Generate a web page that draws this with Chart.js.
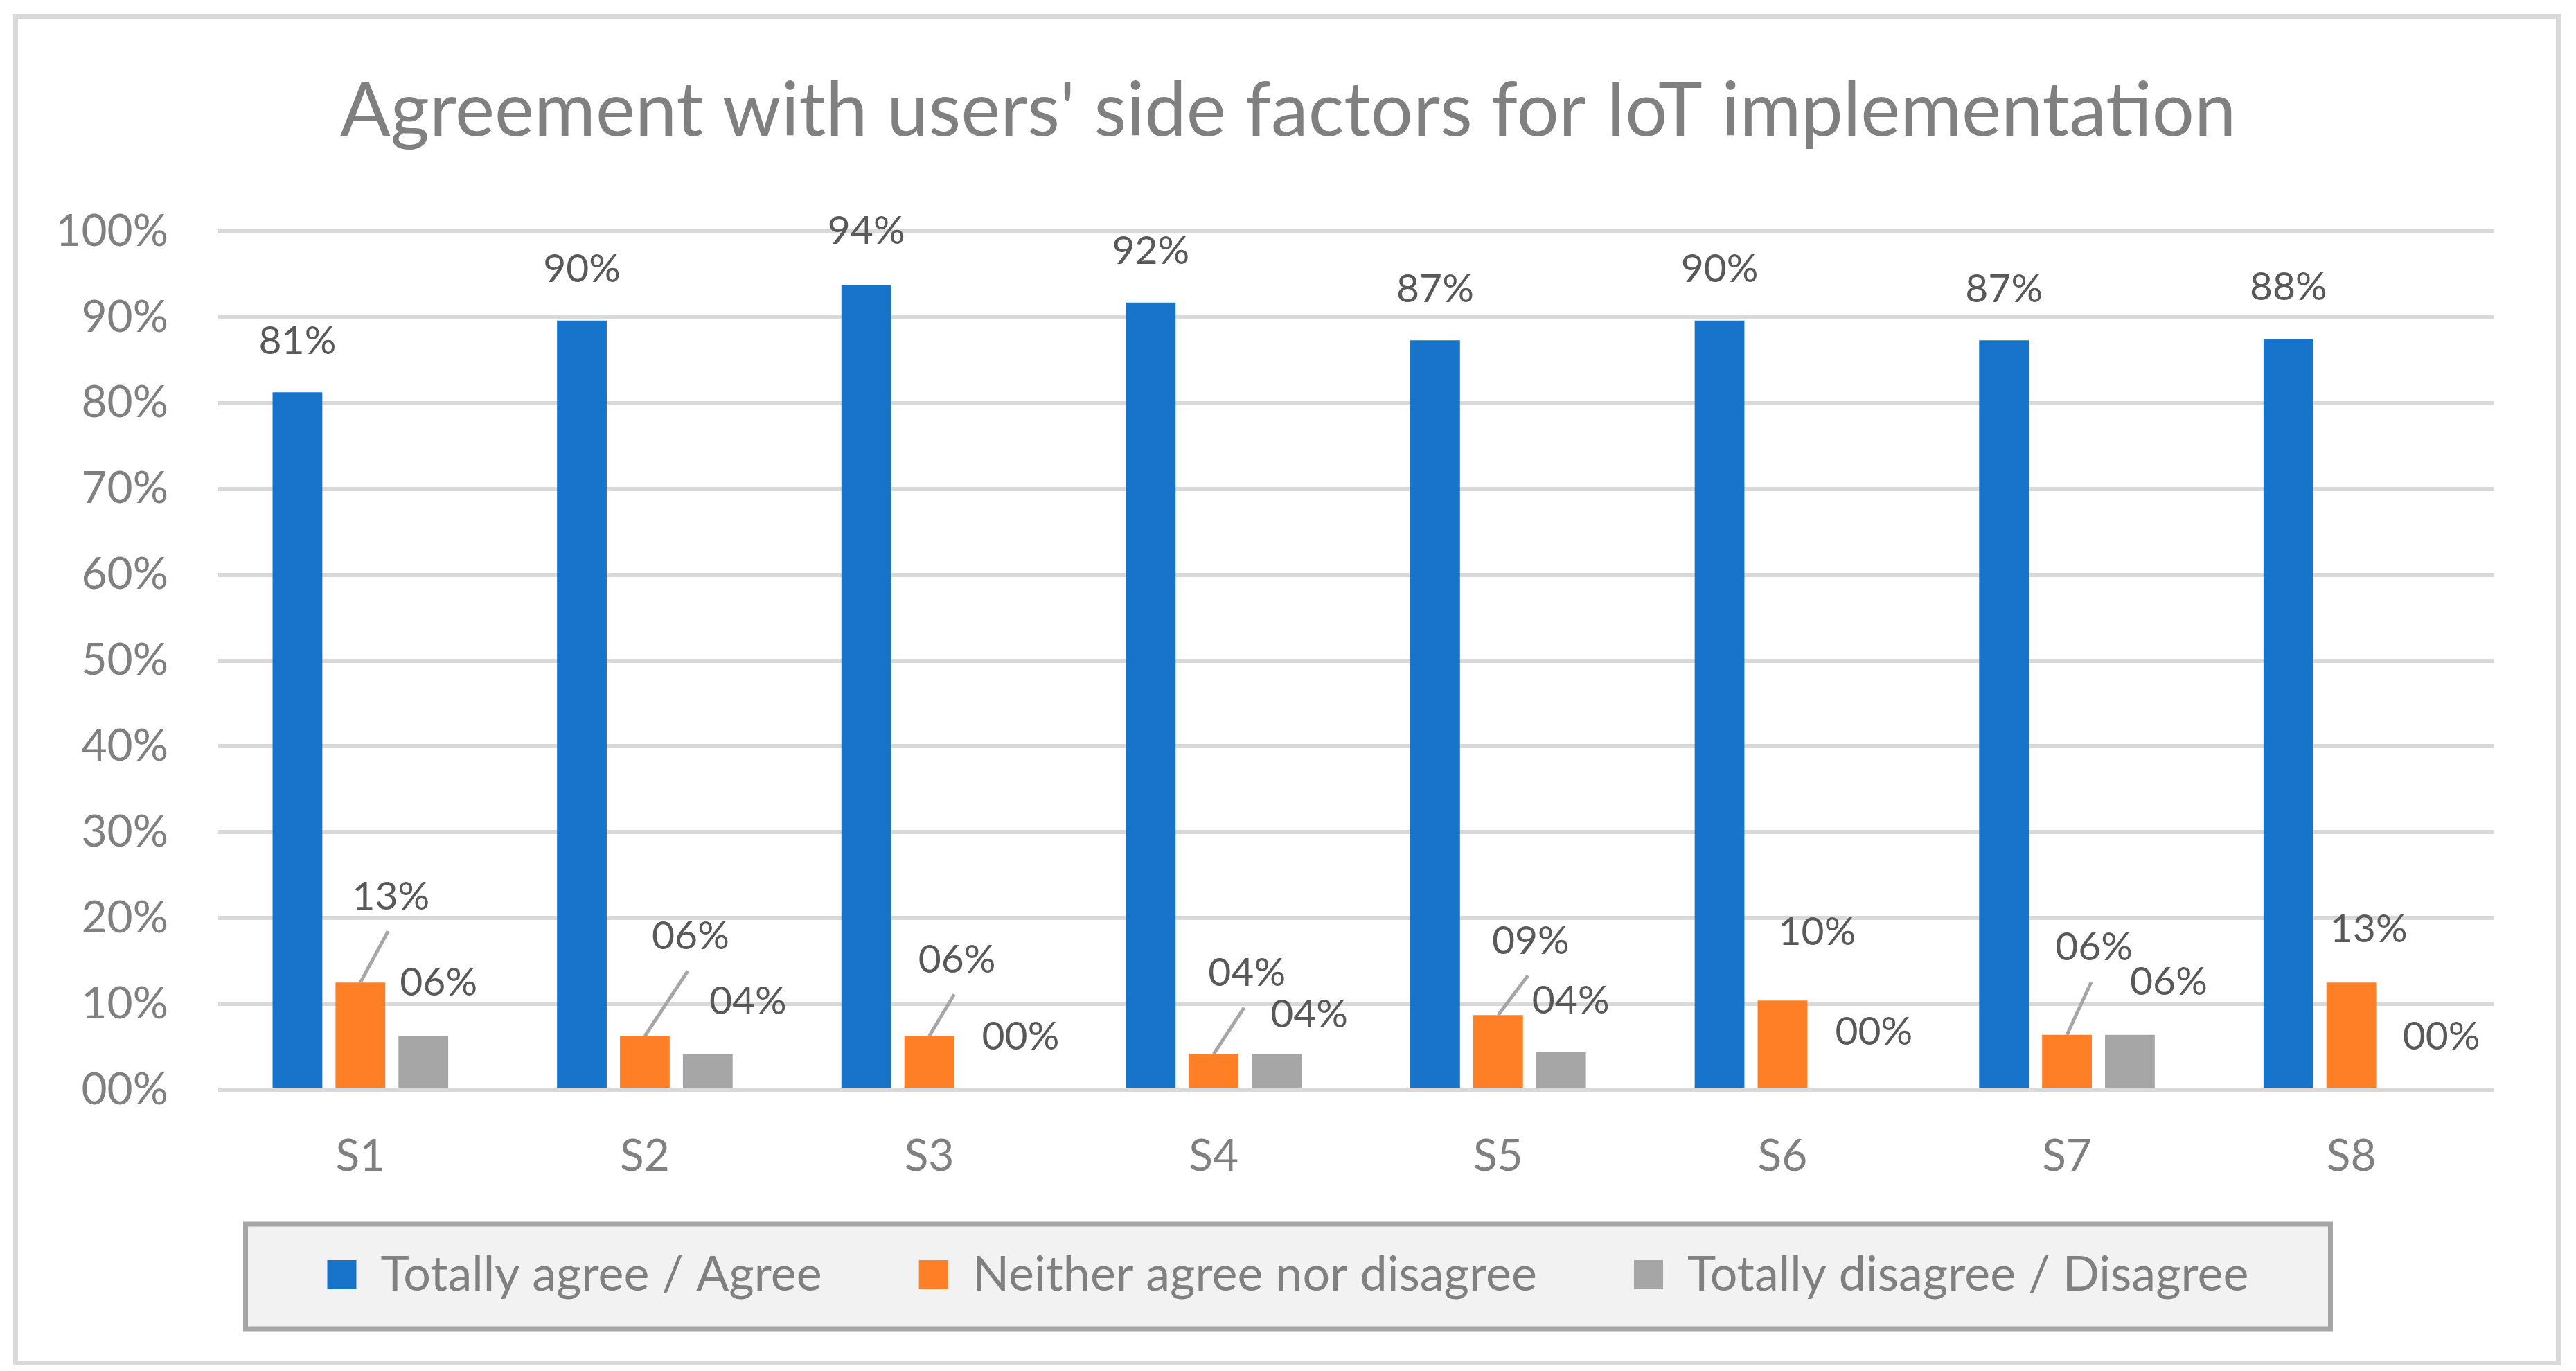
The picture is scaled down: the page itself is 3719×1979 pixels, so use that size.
<!DOCTYPE html>
<html>
<head>
<meta charset="utf-8">
<script src="https://cdn.jsdelivr.net/npm/chart.js@4.4.1/dist/chart.umd.min.js"></script>
<style>
  html, body { margin: 0; padding: 0; background: #ffffff; }
  #wrap { width: 3719px; height: 1979px; }
</style>
</head>
<body>
<div id="wrap"><canvas id="chart"></canvas></div>
<script>
// --- data ---
const statements = ['S1', 'S2', 'S3', 'S4', 'S5', 'S6', 'S7', 'S8'];
const agree = [81.25, 89.6, 93.75, 91.7, 87.3, 89.6, 87.3, 87.5];
const neutral = [12.5, 6.25, 6.25, 4.17, 8.7, 10.4, 6.4, 12.5];
const disagree = [6.25, 4.17, 0, 4.17, 4.35, 0, 6.4, 0];
const seriesNames = ['Totally agree / Agree', 'Neither agree nor disagree', 'Totally disagree / Disagree'];
const yTicks = [0, 10, 20, 30, 40, 50, 60, 70, 80, 90, 100];

// label placement tweaks (px), the way the labels were dragged in the original
const labelNudge = [
  [[0, 0], [0, 0], [0, -4], [0, 0], [0, 0], [0, 0], [0, 0], [0, 0]],
  [[44, -50], [66, -70], [40, -36], [48, -43], [47, -33], [50, -25], [39, -52], [25, -3]],
  [[22, -3], [58, -2], [41, -2], [47, 17], [14, 0], [41, -9], [56, -2], [39, -2]]
];
const leaderLine = [
  [0, 0, 0, 0, 0, 0, 0, 0],
  [1, 1, 1, 1, 1, 0, 1, 0],
  [0, 0, 0, 0, 0, 0, 0, 0]
];

const FONT = 'Lato';
const pct = v => String(Math.round(v)).padStart(2, '0') + '%';

const frame = {
  id: 'frame',
  // pull the legend up into the space under the axis labels
  afterLayout(chart) {
    const lg = chart.legend;
    lg.top -= 48;
    lg.bottom -= 48;
  },
  beforeDraw(chart) {
    const { ctx, width, height } = chart;
    ctx.save();
    ctx.fillStyle = '#ffffff';
    ctx.fillRect(0, 0, width, height);
    ctx.strokeStyle = '#d9d9d9';
    ctx.lineWidth = 7;
    ctx.strokeRect(22.5, 23.5, 3671, 1944);

    // legend box
    const lg = chart.legend;
    if (lg && lg.legendHitBoxes && lg.legendHitBoxes.length) {
      const hb = lg.legendHitBoxes[0];
      const cy = hb.top + hb.height / 2;
      const cx = (lg.left + lg.right) / 2;
      ctx.fillStyle = '#f2f2f2';
      ctx.strokeStyle = '#a6a6a6';
      ctx.lineWidth = 7;
      ctx.fillRect(cx - 1505, cy - 73, 3010, 151);
      ctx.strokeRect(cx - 1505, cy - 73, 3010, 151);
    }
    ctx.restore();
  }
};

const valueLabels = {
  id: 'valueLabels',
  afterDatasetsDraw(chart) {
    const { ctx } = chart;
    ctx.save();
    ctx.font = `57px ${FONT}`;
    ctx.textAlign = 'center';
    ctx.textBaseline = 'middle';
    chart.data.datasets.forEach((ds, i) => {
      const meta = chart.getDatasetMeta(i);
      meta.data.forEach((bar, j) => {
        const lx = bar.x + labelNudge[i][j][0];
        const ly = bar.y - 74 + labelNudge[i][j][1];
        if (leaderLine[i][j]) {
          ctx.strokeStyle = '#a6a6a6';
          ctx.lineWidth = 5;
          ctx.beginPath();
          ctx.moveTo(bar.x, bar.y);
          ctx.lineTo(lx - 4, ly + 50);
          ctx.stroke();
        }
        ctx.fillStyle = '#595959';
        ctx.fillText(pct(ds.data[j]), lx, ly);
      });
    });
    ctx.restore();
  }
};

new Chart(document.getElementById('chart'), {
  type: 'bar',
  data: {
    labels: statements,
    datasets: [
      { label: seriesNames[0], data: agree, backgroundColor: '#1873ca' },
      { label: seriesNames[1], data: neutral, backgroundColor: '#ff7f27' },
      { label: seriesNames[2], data: disagree, backgroundColor: '#a6a6a6' }
    ]
  },
  options: {
    responsive: true,
    maintainAspectRatio: false,
    devicePixelRatio: 1,
    animation: false,
    categoryPercentage: 0.664,
    barPercentage: 0.79,
    layout: { padding: { left: 30, right: 30, top: 0, bottom: 46 } },
    scales: {
      x: {
        grid: { display: false, drawTicks: false },
        border: { display: false },
        ticks: { color: '#808080', font: { family: FONT, size: 64 }, padding: 58 },
        afterFit: s => { s.height = 140; }
      },
      y: {
        min: 0,
        max: 100,
        afterBuildTicks: s => { s.ticks = yTicks.map(v => ({ value: v })); },
        grid: { color: '#d9d9d9', lineWidth: 6, drawTicks: false },
        border: { display: false },
        ticks: { color: '#808080', font: { family: FONT, size: 64 }, padding: 72, callback: v => pct(v) },
        afterFit: s => { s.width = 285; }
      },
      // empty right-hand margin so the plot ends where the original does
      yRight: {
        position: 'right',
        grid: { display: false, drawTicks: false },
        border: { display: false },
        ticks: { display: false },
        afterFit: s => { s.width = 89; }
      }
    },
    plugins: {
      title: {
        display: true,
        text: "Agreement with users' side factors for IoT implementation",
        color: '#808080',
        font: { family: FONT, size: 108, weight: 'normal' },
        lineHeight: 1.2,
        padding: { top: 96, bottom: 108.4 }
      },
      legend: {
        position: 'bottom',
        maxHeight: 300,
        labels: {
          color: '#808080',
          font: { family: FONT, size: 70 },
          boxWidth: 42,
          boxHeight: 42,
          padding: 140
        }
      },
      tooltip: { enabled: false }
    }
  },
  plugins: [frame, valueLabels]
});
</script>
</body>
</html>
